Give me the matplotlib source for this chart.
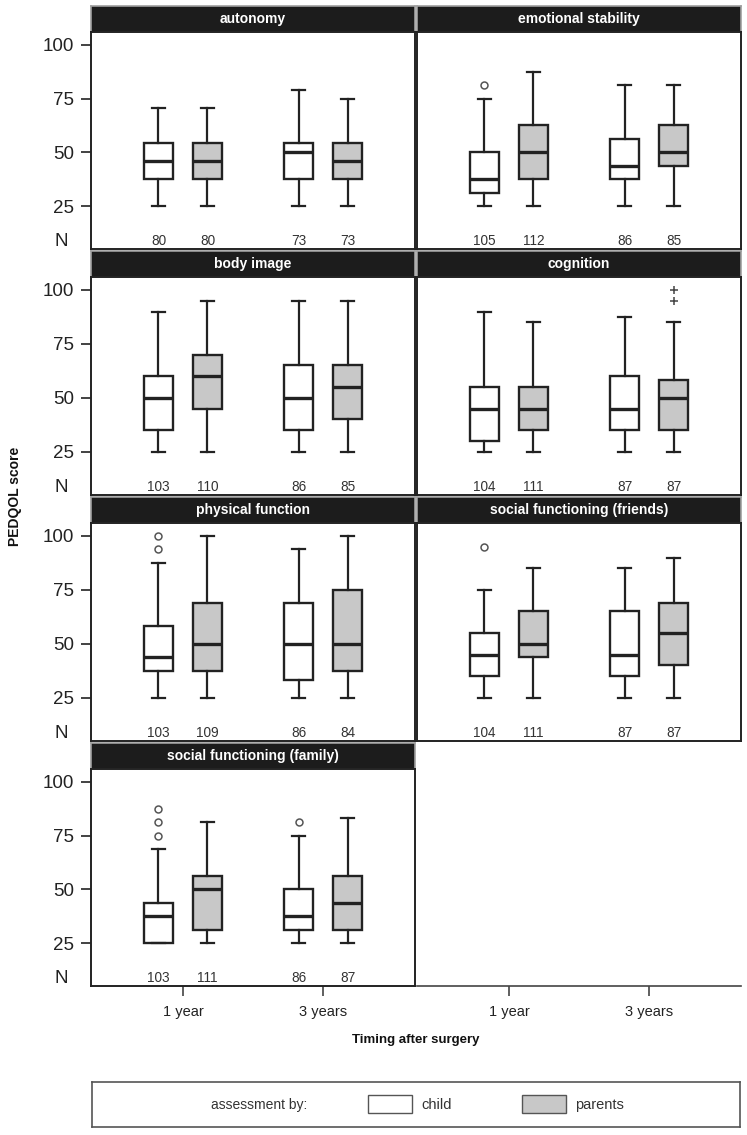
import matplotlib
matplotlib.use('Agg')
import matplotlib.pyplot as plt
from matplotlib.patches import Rectangle

# figure size in pixels
W, H = 747, 1135

# panel titles, in reading order
titles = ['autonomy', 'emotional stability', 'body image', 'cognition',
          'physical function', 'social functioning (friends)',
          'social functioning (family)']

# box stats per panel: [whislo, q1, med, q3, whishi]
# order: child 1 year, parents 1 year, child 3 years, parents 3 years
autonomy = [[25, 37.5, 45.8, 54.2, 70.8], [25, 37.5, 45.8, 54.2, 70.8],
            [25, 37.5, 50, 54.2, 79.2], [25, 37.5, 45.8, 54.2, 75]]
emotional = [[25, 31.25, 37.5, 50, 75], [25, 37.5, 50, 62.5, 87.5],
             [25, 37.5, 43.75, 56.25, 81.25], [25, 43.75, 50, 62.5, 81.25]]
body_image = [[25, 35, 50, 60, 90], [25, 45, 60, 70, 95],
              [25, 35, 50, 65, 95], [25, 40, 55, 65, 95]]
cognition = [[25, 30, 45, 55, 90], [25, 35, 45, 55, 85],
             [25, 35, 45, 60, 87.5], [25, 35, 50, 58.3, 85]]
physical = [[25, 37.5, 43.75, 58.3, 87.5], [25, 37.5, 50, 68.75, 100],
            [25, 33.3, 50, 68.75, 93.75], [25, 37.5, 50, 75, 100]]
friends = [[25, 35, 45, 55, 75], [25, 43.75, 50, 65, 85],
           [25, 35, 45, 65, 85], [25, 40, 55, 68.75, 90]]
family = [[25, 25, 37.5, 43.75, 68.75], [25, 31.25, 50, 56.25, 81.25],
          [25, 31.25, 37.5, 50, 75], [25, 31.25, 43.75, 56.25, 83.3]]

# outliers (open circles) and far outliers (+), per panel and box
outliers = [[[], [], [], []],
            [[81.25], [], [], []],
            [[], [], [], []],
            [[], [], [], []],
            [[100, 93.75], [], [], []],
            [[95], [], [], []],
            [[87.5, 81.25, 75], [], [81.25], []]]
far_outliers = [[[], [], [], []],
                [[], [], [], []],
                [[], [], [], []],
                [[], [], [], [100, 95]],
                [[], [], [], []],
                [[], [], [], []],
                [[], [], [], []]]

# sample sizes shown under each box
n_counts = [[80, 80, 73, 73], [105, 112, 86, 85], [103, 110, 86, 85],
            [104, 111, 87, 87], [103, 109, 86, 84], [104, 111, 87, 87],
            [103, 111, 86, 87]]

stats_all = [autonomy, emotional, body_image, cognition, physical, friends, family]

groups = [1, 2]
time_labels = ['1 year', '3 years']
yticks = [25, 50, 75, 100]

offset = 0.175
positions = [1 - offset, 1 + offset, 2 - offset, 2 + offset]
fills = ['white', '#c8c8c8', 'white', '#c8c8c8']
dark = '#222222'

plt.rcParams['font.family'] = ['Liberation Sans', 'DejaVu Sans']

fig = plt.figure(figsize=(W / 100, H / 100), dpi=100)


def px_axes(x0, y0, x1, y1):
    return fig.add_axes([x0 / W, 1 - y1 / H, (x1 - x0) / W, (y1 - y0) / H])


rows = [(6, 32, 249), (251, 277, 495), (497, 523, 741), (743, 769, 986)]
cols = [(91, 415), (417, 741)]

for i, title in enumerate(titles):
    r, c = divmod(i, 2)
    st, top, bot = rows[r]
    x0, x1 = cols[c]

    # black title strip
    sax = px_axes(x0, st, x1, top)
    sax.set_facecolor('#1c1c1c')
    sax.set_xticks([])
    sax.set_yticks([])
    for s in sax.spines.values():
        s.set_color('#a0a0a0')
        s.set_linewidth(1.2)
    sax.text(0.5, 0.5, title, color='white', fontsize=10, fontweight='bold',
             ha='center', va='center', transform=sax.transAxes)

    ax = px_axes(x0, top, x1, bot)
    stats = []
    for k, s in enumerate(stats_all[i]):
        stats.append(dict(whislo=s[0], q1=s[1], med=s[2], q3=s[3], whishi=s[4],
                          fliers=outliers[i][k]))
    bp = ax.bxp(stats, positions=positions, widths=0.214, capwidths=0.093,
                patch_artist=True,
                boxprops=dict(edgecolor=dark, linewidth=1.7),
                medianprops=dict(color=dark, linewidth=2.4),
                whiskerprops=dict(color=dark, linewidth=1.6),
                capprops=dict(color=dark, linewidth=1.6),
                flierprops=dict(marker='o', markerfacecolor='none',
                                markeredgecolor='#555555', markersize=5,
                                markeredgewidth=1.1))
    for patch, fc in zip(bp['boxes'], fills):
        patch.set_facecolor(fc)
    for k, vals in enumerate(far_outliers[i]):
        if vals:
            ax.plot([positions[k]] * len(vals), vals, linestyle='none',
                    marker='+', color='#444444', markersize=6, mew=1.1)

    for k, n in enumerate(n_counts[i]):
        ax.text(positions[k], 8.7, str(n), ha='center', va='center',
                fontsize=9.8, color='#333333')

    ax.set_xlim(0.343, 2.657)
    ax.set_ylim(5, 106)
    for s in ax.spines.values():
        s.set_color(dark)
        s.set_linewidth(1.4)

    if c == 0:
        ax.set_yticks(yticks)
        ax.tick_params(axis='y', length=7, width=1.2, pad=5, labelsize=13.5,
                       color=dark, labelcolor='#222222')
        ax.text(-0.07, 8.7, 'N', transform=ax.get_yaxis_transform(),
                ha='right', va='center', fontsize=13.5, color='#222222')
    else:
        ax.set_yticks([])

    if r == 3:
        ax.set_xticks(groups)
        ax.set_xticklabels(time_labels, fontsize=10.5, color='#222222')
        ax.tick_params(axis='x', length=7, width=1.2, pad=7, color='#444444')
    else:
        ax.set_xticks([])

# empty bottom-right slot: only the x axis is drawn
ax = px_axes(cols[1][0], rows[3][1], cols[1][1], rows[3][2])
ax.set_xlim(0.343, 2.657)
ax.set_yticks([])
ax.set_xticks(groups)
ax.set_xticklabels(time_labels, fontsize=10.5, color='#222222')
ax.tick_params(axis='x', length=7, width=1.2, pad=7, color='#444444')
for name in ['top', 'right', 'left']:
    ax.spines[name].set_visible(False)
ax.spines['bottom'].set_color('#444444')
ax.spines['bottom'].set_linewidth(1.2)

fig.text(416 / W, 1 - 1040 / H, 'Timing after surgery', ha='center', va='center',
         fontsize=9.5, fontweight='bold', color='#111111')
fig.text(15 / W, 1 - 496 / H, 'PEDQOL score', rotation=90, ha='center',
         va='center', fontsize=10, fontweight='bold', color='#111111')

# legend box
lax = px_axes(92, 1082, 740, 1127)
lax.set_xlim(92, 740)
lax.set_ylim(1127, 1082)
lax.set_xticks([])
lax.set_yticks([])
for s in lax.spines.values():
    s.set_color('#555555')
    s.set_linewidth(1.2)
lax.text(259, 1105, 'assessment by:', ha='center', va='center', fontsize=10,
         color='#333333')
lax.add_patch(Rectangle((368, 1095), 44, 18, facecolor='white',
                        edgecolor='#555555', linewidth=1))
lax.text(421, 1105, 'child', ha='left', va='center', fontsize=10.5,
         color='#333333')
lax.add_patch(Rectangle((522, 1095), 44, 18, facecolor='#c8c8c8',
                        edgecolor='#555555', linewidth=1))
lax.text(575, 1105, 'parents', ha='left', va='center', fontsize=10.5,
         color='#333333')

fig.savefig('out.png', dpi=100)
